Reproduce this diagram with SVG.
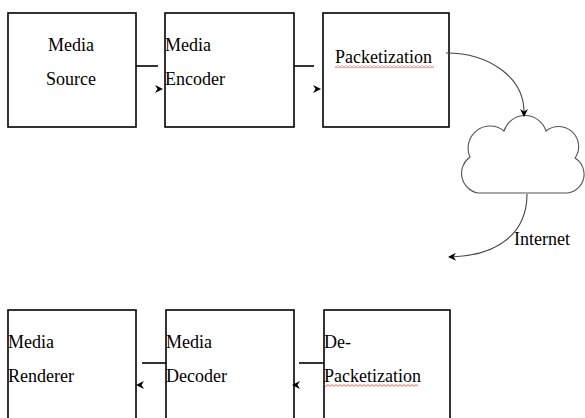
<svg xmlns="http://www.w3.org/2000/svg" width="585" height="418" viewBox="0 0 585 418">
<style>
.box{fill:#fff;stroke:#000;stroke-width:1.6}
.t{font-family:"Liberation Serif","Times New Roman",serif;font-size:18px;fill:#000}
.ln{stroke:#000;stroke-width:1.6;fill:none}
.cv{stroke:#444;stroke-width:1.1;fill:none}
.ah{fill:#000}
</style>
<defs>
<path id="dart" d="M0,0 L-8,-4 L-5.5,0 L-8,4 Z"/>
<pattern id="squig" width="4" height="3" patternUnits="userSpaceOnUse">
<path d="M0,0.6 L2,2.4 L4,0.6" stroke="#e33" stroke-width="0.8" fill="none"/>
</pattern>
</defs>
<rect width="585" height="418" fill="#fff"/>

<g id="media-source">
<rect class="box" x="8" y="13" width="128" height="114"/>
<text class="t" x="71" y="51" text-anchor="middle">Media</text>
<text class="t" x="71" y="85" text-anchor="middle">Source</text>
</g>
<g id="media-encoder">
<rect class="box" x="165" y="13" width="129" height="114"/>
<text class="t" x="165" y="51">Media</text>
<text class="t" x="165" y="85">Encoder</text>
</g>
<g id="packetization">
<rect class="box" x="323" y="13" width="126" height="114"/>
<text class="t" x="335" y="63">Packetization</text>
<rect x="335" y="65" width="99" height="3" fill="url(#squig)"/>
</g>
<g id="internet">
<path d="M478,193 A20,20 0 0 1 470,157 A22,22 0 0 1 504,131 A22,22 0 0 1 546,131 A20,20 0 0 1 575,158 A19,19 0 0 1 568,193 Z" fill="#fff" stroke="#555" stroke-width="1.1"/>
<text class="t" x="514" y="245">Internet</text>
</g>
<g id="media-renderer">
<rect class="box" x="8" y="310" width="128" height="120"/>
<text class="t" x="8" y="348">Media</text>
<text class="t" x="8" y="382">Renderer</text>
</g>
<g id="media-decoder">
<rect class="box" x="166" y="310" width="128" height="120"/>
<text class="t" x="166" y="348">Media</text>
<text class="t" x="166" y="382">Decoder</text>
</g>
<g id="de-packetization">
<rect class="box" x="324" y="310" width="126" height="120"/>
<text class="t" x="324" y="348">De-</text>
<text class="t" x="324" y="382">Packetization</text>
<rect x="324" y="384" width="94" height="3" fill="url(#squig)"/>
</g>

<g id="connectors">
<line class="ln" x1="136" y1="66" x2="158" y2="66"/>
<use href="#dart" class="ah" transform="translate(163,89)"/>
<line class="ln" x1="294" y1="66" x2="314" y2="66"/>
<use href="#dart" class="ah" transform="translate(321,89)"/>
<path class="cv" d="M446,53 C490,53 524,78 524,112"/>
<use href="#dart" class="ah" transform="translate(524,117) rotate(90)"/>
<path class="cv" d="M527,194 C527,232 500,255 452,257"/>
<use href="#dart" class="ah" transform="translate(448,257) rotate(178)"/>
<line class="ln" x1="142" y1="363" x2="166" y2="363"/>
<use href="#dart" class="ah" transform="translate(136,385) rotate(180)"/>
<line class="ln" x1="299" y1="363" x2="324" y2="363"/>
<use href="#dart" class="ah" transform="translate(292,385) rotate(180)"/>
</g>
</svg>
